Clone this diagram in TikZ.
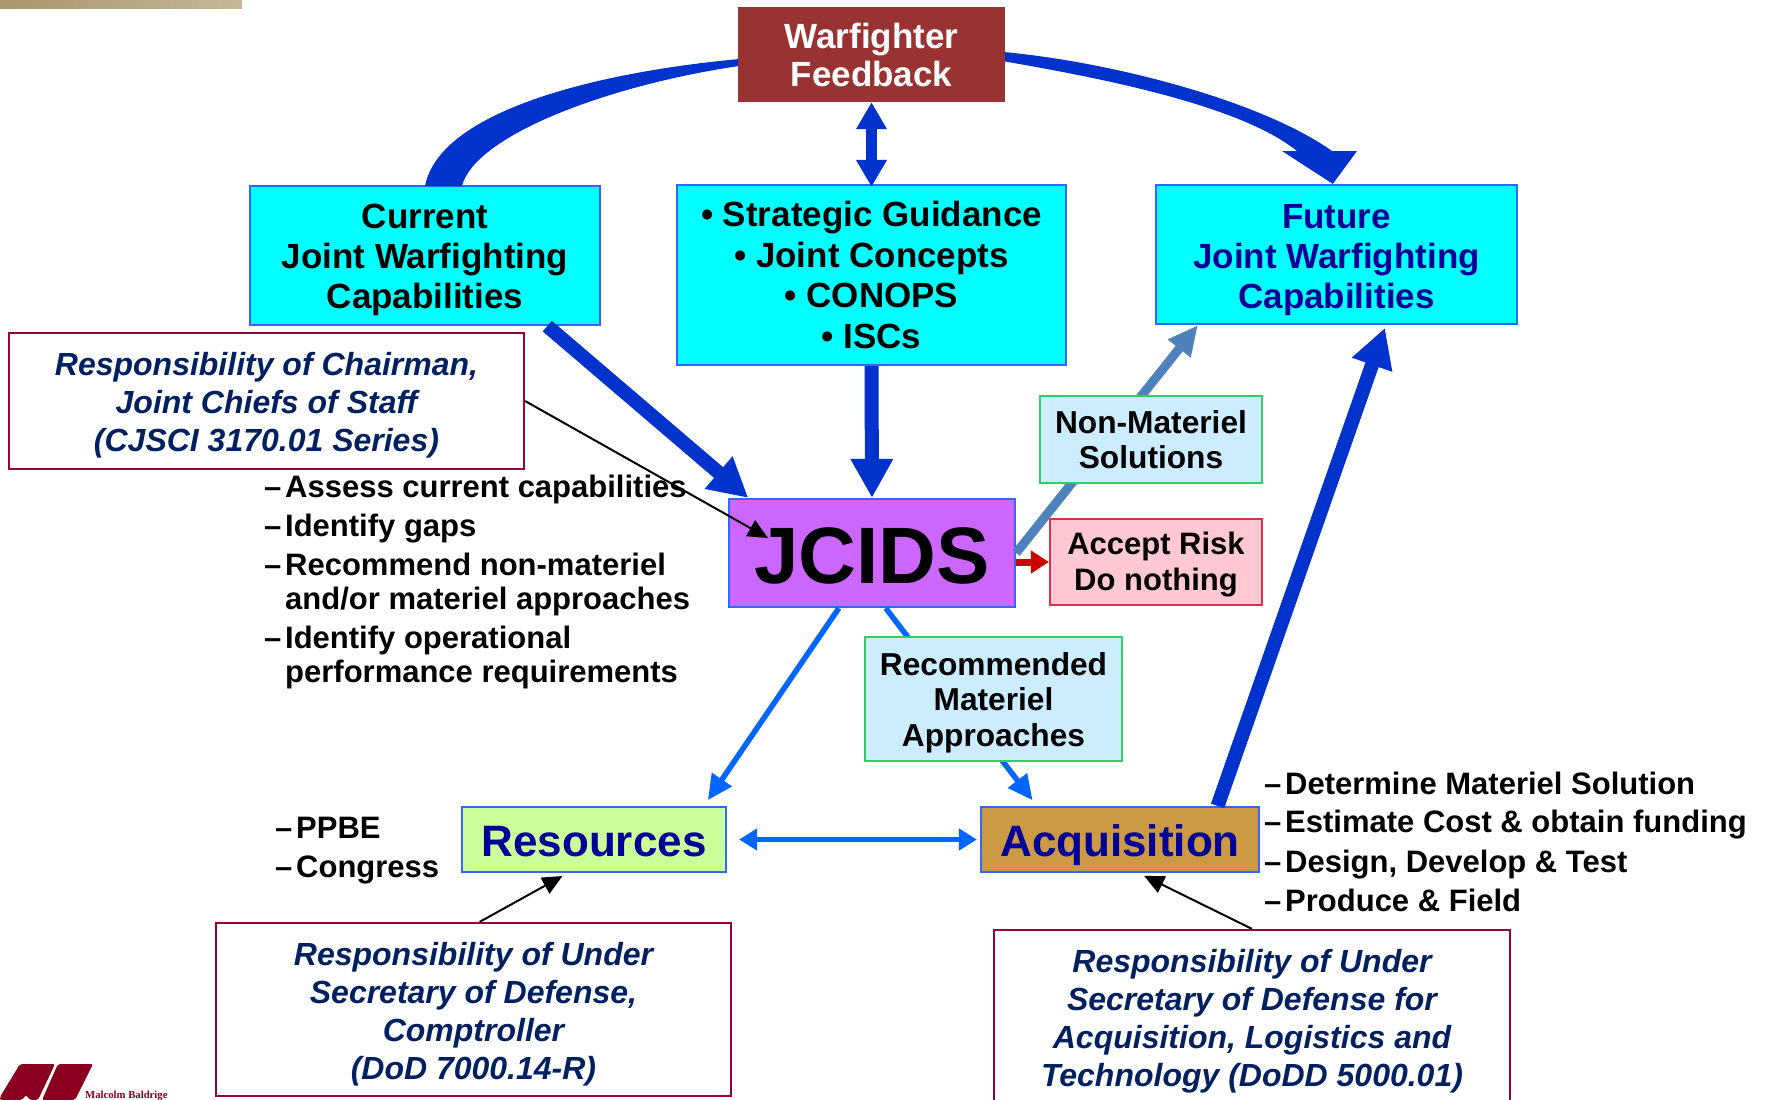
\documentclass[tikz,border=0pt]{standalone}
\usepackage{fontspec}
\setmainfont{Liberation Sans}
\newfontfamily\logofont{Liberation Serif}
\usetikzlibrary{arrows.meta,shadings}
\definecolor{boxblue}{HTML}{3366FF}
\definecolor{boxcyan}{HTML}{00FFFF}
\definecolor{arrowblue}{HTML}{0033CC}
\definecolor{brightblue}{HTML}{0066FF}
\definecolor{steelarrow}{HTML}{4F81BD}
\definecolor{maroon}{HTML}{990033}
\definecolor{notenavy}{HTML}{002060}
\definecolor{titlenavy}{HTML}{000099}
\definecolor{palegreen}{HTML}{33CC66}
\definecolor{paleblue}{HTML}{CCECFF}
\definecolor{logored}{HTML}{8B0020}
\definecolor{tanleft}{HTML}{A8956A}
\definecolor{tanright}{HTML}{C4B897}
\definecolor{feedbackred}{HTML}{993333}
\definecolor{jcidsviolet}{HTML}{CC66FF}
\definecolor{resourcegreen}{HTML}{CCFF99}
\definecolor{acquisitionbrown}{HTML}{CC9944}
\definecolor{riskred}{HTML}{E0304F}
\definecolor{riskpink}{HTML}{FFC8D2}
\newcommand{\lsize}[2]{\fontsize{#1}{#2}\selectfont\bfseries}
\newcommand{\itemdash}{\makebox[21pt][l]{–}}
\newcommand{\dropline}[1]{\rule{0pt}{#1}}
\tikzset{
  box/.style={draw=boxblue,line width=2.2pt,inner sep=0pt,align=center},
  capbox/.style={box,fill=boxcyan,minimum width=#1,font=\lsize{35}{40}},
  optbox/.style={draw=palegreen,fill=paleblue,line width=2.2pt,inner sep=0pt,align=center,font=\lsize{31.7}{35.5}},
  notebox/.style={draw=maroon,fill=white,line width=2.2pt,inner sep=0pt,align=center,
    text=notenavy,font=\lsize{32}{38}\itshape},
  listline/.style={anchor=base west,inner sep=0pt,font=\lsize{31}{35}},
  bigarrow/.style={draw=arrowblue,line width=14pt,-{Triangle[length=39pt,width=40pt]}},
  thinarrow/.style={draw=brightblue,line width=5.5pt,-{Triangle[length=25pt,width=23pt]}},
  notearrow/.style={draw=black,line width=2pt,-{Triangle[length=20pt,width=18pt]}}
}
\begin{document}
\begin{tikzpicture}[x=1pt,y=-1pt]
  \useasboundingbox (0,0) rectangle (1772,1100);
  \shade [left color=tanleft,right color=tanright] (0,0) rectangle (242,8);
  % boxes at the top
  \node [fill=feedbackred,text=white,minimum width=267pt,minimum height=95pt,inner sep=0pt,
    align=center,font=\lsize{35}{38}] (warfighter) at (871.5,54.5) {Warfighter\\Feedback};
  \node [capbox=350pt,minimum height=139pt] (current) at (425,255.5) {\dropline{34pt}Current\\Joint Warfighting\\Capabilities};
  \node [capbox=389pt,minimum height=180pt,font=\lsize{35}{40.5}] (guidance) at (871.5,275) {• Strategic Guidance\\• Joint Concepts\\• CONOPS\\• ISCs};
  \node [capbox=361pt,minimum height=139pt,text=titlenavy] (future) at (1336.5,254.5) {\dropline{35pt}Future\\Joint Warfighting\\Capabilities};
  \node [box,fill=jcidsviolet,minimum width=286pt,minimum height=108pt,font=\lsize{80}{80}] (jcids) at (872,553) {\dropline{61pt}JCIDS};
  \node [box,fill=resourcegreen,minimum width=264pt,minimum height=65pt,text=titlenavy,font=\lsize{44}{44}] (resources) at (594,839.5) {\dropline{35pt}Resources};
  \node [box,fill=acquisitionbrown,minimum width=278pt,minimum height=65pt,text=titlenavy,font=\lsize{44}{44}] (acquisition) at (1120,839.5) {\dropline{44pt}Acquisition};
  % the two wide curves
  \fill [arrowblue] (warfighter.182) .. controls (600,72) and (440,110) .. (425,186)
    -- (462,186) .. controls (475,135) and (610,85) .. (warfighter.185) -- cycle;
  \fill [arrowblue] (warfighter.1) .. controls (1110,62) and (1260,100) .. (1332,151) -- (1357,151)
    -- (future.93) -- (1282,151) -- (1297,151) .. controls (1240,105) and (1100,78) .. (warfighter.-3) -- cycle;
  % arrows between the boxes
  \draw [draw=arrowblue,line width=11pt,{Triangle[length=27pt,width=29pt]}-{Triangle[length=27pt,width=29pt]},shorten >=-3pt] (warfighter.south) -- (guidance.north);
  \draw [bigarrow] (guidance.south) -- (jcids.north);
  \draw [bigarrow] (current.-30) -- (jcids.156);
  \draw [bigarrow,shorten >=3pt] (acquisition.19) -- (future.-55);
  \draw [draw=steelarrow,line width=9pt,-{Triangle[length=30pt,width=27pt]}] (jcids.east) -- (future.207);
  \draw [thinarrow,shorten >=7pt] (jcids.-121) -- (resources.17.5);
  \draw [thinarrow,shorten >=7pt] (jcids.-76) -- (acquisition.158.8);
  \draw [draw=brightblue,line width=5pt,{Triangle[length=18pt,width=21pt]}-{Triangle[length=18pt,width=21pt]},shorten <=12pt,shorten >=3pt] (resources.east) -- (acquisition.west);
  % smaller boxes on top of the arrows
  \node [optbox,minimum width=222pt,minimum height=87pt] (nonmateriel) at (1151,439.5) {Non-Materiel\\Solutions};
  \node [optbox,draw=riskred,fill=riskpink,minimum width=212pt,minimum height=86pt,font=\lsize{31}{36}] (acceptrisk) at (1156,562) {\dropline{27pt}Accept Risk\\Do nothing};
  \node [optbox,minimum width=257pt,minimum height=124pt] (materiel) at (993.5,699) {\dropline{30pt}Recommended\\Materiel\\Approaches};
  \draw [draw=red!80!black,line width=7pt,-{Triangle[length=18pt,width=22pt]}] (acceptrisk.west -| jcids.east) -- (acceptrisk.west);
  % lists of tasks
  \node [listline] (assess) at (264,497) {\itemdash Assess current capabilities};
  \node [listline] (gaps) at (264,536) {\itemdash Identify gaps};
  \node [listline] (approach) at (264,575) {\itemdash Recommend non-materiel};
  \node [listline] (approachb) at (285,609) {and/or materiel approaches};
  \node [listline] (perform) at (264,648) {\itemdash Identify operational};
  \node [listline] (performb) at (285,682) {performance requirements};
  \node [listline] (ppbe) at (275,838) {\itemdash PPBE};
  \node [listline] (congress) at (275,877) {\itemdash Congress};
  \node [listline] (determine) at (1264,794) {\itemdash Determine Materiel Solution};
  \node [listline] (estimate) at (1264,832) {\itemdash Estimate Cost \& obtain funding};
  \node [listline] (design) at (1264,872) {\itemdash Design, Develop \& Test};
  \node [listline] (produce) at (1264,911) {\itemdash Produce \& Field};
  % notes on responsibility
  \node [notebox,minimum width=515pt,minimum height=136pt] (chairman) at (266.5,401) {\dropline{31pt}Responsibility of Chairman,\\Joint Chiefs of Staff\\(CJSCI 3170.01 Series)};
  \node [notebox,minimum width=515pt,minimum height=173pt] (comptroller) at (473.5,1009.5) {\dropline{33pt}Responsibility of Under\\Secretary of Defense,\\Comptroller\\(DoD 7000.14-R)};
  \node [notebox,minimum width=516pt,minimum height=182pt] (atl) at (1252,1021) {Responsibility of Under\\Secretary of Defense for\\Acquisition, Logistics and\\Technology (DoDD 5000.01)};
  \coordinate (jcidsnote) at (768,538);
  \draw [notearrow] (chairman.east) -- (jcidsnote);
  \draw [notearrow,shorten >=6pt] (comptroller.86) -- (resources.-128);
  \draw [notearrow,shorten >=6pt] (atl.north) -- (acquisition.-61);
  % logo in the corner
  \fill [logored,rounded corners=2pt] (0,1097) -- (20,1064) -- (55,1064) -- (38,1100) -- (30,1100) -- (26,1095) -- (22,1100) -- (0,1100) -- cycle;
  \fill [logored,rounded corners=2pt] (58,1064) -- (93,1064) -- (75,1100) -- (42,1100) -- cycle;
  \node [anchor=base west,inner sep=0pt,text=logored,font=\logofont\fontsize{10.7}{11}\selectfont\bfseries] (baldrige) at (85,1098) {Malcolm Baldrige};
\end{tikzpicture}
\end{document}
